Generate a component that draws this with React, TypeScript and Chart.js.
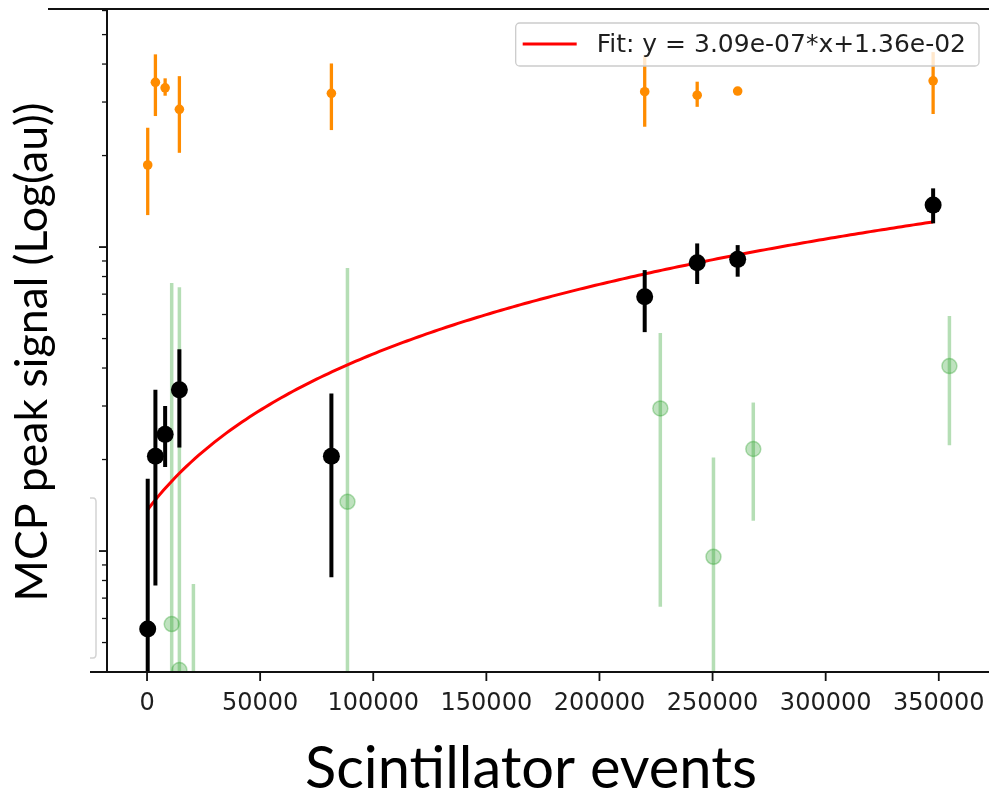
import React, { useEffect, useRef } from 'react';
import { Chart, registerables } from 'chart.js';

Chart.register(...registerables);

// ---- axis / tick definitions ----
const X_TICKS = [0, 50000, 100000, 150000, 200000, 250000, 300000, 350000];
const Y_MAJOR_TICKS = [0.01, 0.1];
const Y_MINOR_TICKS = [0.004, 0.005, 0.006, 0.007, 0.008, 0.009, 0.02, 0.03, 0.04, 0.05, 0.06, 0.07, 0.08, 0.09, 0.2, 0.3, 0.4, 0.5, 0.6];
const X_MIN = -17700;
const X_MAX = 372200;
const Y_MIN = 0.004;
const Y_MAX = 0.607;

const X_TITLE = 'Scintillator events';
const Y_TITLE = 'MCP peak signal (Log(au))';

// ---- data ----
const SCINT_X = [300, 3700, 8000, 14300, 81500, 220000, 243200, 261100, 347500];

const BLACK_Y = [0.00554, 0.0205, 0.0242, 0.0339, 0.0205, 0.0686, 0.0888, 0.0911, 0.1374];
const BLACK_LO = [0.002, 0.0077, 0.0189, 0.0219, 0.0082, 0.0525, 0.0756, 0.0799, 0.1197];
const BLACK_HI = [0.0173, 0.0339, 0.03, 0.0461, 0.033, 0.084, 0.1028, 0.1015, 0.156];

const ORANGE_Y = [0.1862, 0.3482, 0.3342, 0.2838, 0.3204, 0.3244, 0.316, 0.326, 0.3523];
const ORANGE_LO = [0.1274, 0.2698, 0.3147, 0.2042, 0.2426, 0.2488, 0.2893, 0.326, 0.274];
const ORANGE_HI = [0.2469, 0.4305, 0.359, 0.365, 0.4018, 0.4285, 0.35, 0.326, 0.4379];

const GREEN_X = [10900, 14300, 20500, 88600, 226900, 250400, 268000, 354700];
const GREEN_Y = [0.00575, 0.00406, 0.0028, 0.01452, 0.02945, 0.00957, 0.02166, 0.0406];
const GREEN_LO = [0.001, 0.001, 0.001, 0.001, 0.00656, 0.001, 0.01258, 0.0223];
const GREEN_HI = [0.0761, 0.0738, 0.00779, 0.0853, 0.0522, 0.0203, 0.0308, 0.0593];

const FIT_SLOPE = 3.09e-7;
const FIT_INTERCEPT = 1.36e-2;
const FIT_LABEL = 'Fit: y = 3.09e-07*x+1.36e-02';

function pts(xs: number[], ys: number[], lo: number[], hi: number[]) {
  return xs.map((x, i) => ({ x, y: ys[i], yMin: lo[i], yMax: hi[i] }));
}

function fitPoints() {
  const x0 = Math.min(...SCINT_X);
  const x1 = Math.max(...SCINT_X);
  const out: { x: number; y: number }[] = [];
  const n = 200;
  for (let i = 0; i <= n; i++) {
    const x = x0 + ((x1 - x0) * i) / n;
    out.push({ x, y: FIT_SLOPE * x + FIT_INTERCEPT });
  }
  return out;
}

const errorBarPlugin = {
  id: 'errorBars',
  beforeDatasetDraw(chart: any, args: any) {
    const ds: any = chart.data.datasets[args.index];
    if (!ds.errColor) return;
    const { ctx, chartArea: a } = chart;
    const x = chart.scales.x;
    const y = chart.scales.y;
    ctx.save();
    ctx.beginPath();
    ctx.rect(a.left, a.top, a.right - a.left, a.bottom - a.top);
    ctx.clip();
    ctx.strokeStyle = ds.errColor;
    ctx.lineWidth = ds.errWidth;
    ctx.lineCap = 'butt';
    ds.data.forEach((p: any) => {
      if (p.yMin === p.yMax) return;
      const px = x.getPixelForValue(p.x);
      ctx.beginPath();
      ctx.moveTo(px, y.getPixelForValue(p.yMin));
      ctx.lineTo(px, y.getPixelForValue(p.yMax));
      ctx.stroke();
    });
    ctx.restore();
  },
};

const decorPlugin = {
  id: 'decor',
  afterDraw(chart: any) {
    const { ctx, chartArea: a } = chart;
    const x = chart.scales.x;
    const y = chart.scales.y;
    ctx.save();

    // faint fragment of a neighbouring legend frame
    ctx.strokeStyle = 'rgba(200,200,200,0.8)';
    ctx.lineWidth = 1.5;
    ctx.beginPath();
    ctx.moveTo(a.left - 17, a.bottom - 174);
    ctx.lineTo(a.left - 14, a.bottom - 174);
    ctx.quadraticCurveTo(a.left - 11, a.bottom - 174, a.left - 11, a.bottom - 170);
    ctx.lineTo(a.left - 11, a.bottom - 18);
    ctx.quadraticCurveTo(a.left - 11, a.bottom - 14, a.left - 14, a.bottom - 14);
    ctx.lineTo(a.left - 17, a.bottom - 14);
    ctx.stroke();

    // spines
    ctx.strokeStyle = '#111';
    ctx.lineWidth = 2;
    ctx.beginPath();
    ctx.moveTo(a.left - 59, a.top);
    ctx.lineTo(a.right, a.top);
    ctx.moveTo(a.left, a.top);
    ctx.lineTo(a.left, a.bottom);
    ctx.moveTo(a.left - 17, a.bottom);
    ctx.lineTo(a.right, a.bottom);
    ctx.stroke();

    // x ticks + labels
    ctx.lineWidth = 1.8;
    ctx.fillStyle = '#1e1e1e';
    ctx.font = '24px "DejaVu Sans"';
    ctx.textAlign = 'center';
    ctx.textBaseline = 'alphabetic';
    x.ticks.forEach((t: any) => {
      const px = x.getPixelForValue(t.value);
      ctx.beginPath();
      ctx.moveTo(px, a.bottom);
      ctx.lineTo(px, a.bottom + 9);
      ctx.stroke();
      ctx.fillText(String(t.value), px, a.bottom + 38);
    });

    // y ticks (no labels)
    Y_MAJOR_TICKS.forEach((v) => {
      const py = y.getPixelForValue(v);
      ctx.beginPath();
      ctx.moveTo(a.left, py);
      ctx.lineTo(a.left - 8, py);
      ctx.stroke();
    });
    ctx.lineWidth = 1.3;
    Y_MINOR_TICKS.forEach((v) => {
      const py = y.getPixelForValue(v);
      ctx.beginPath();
      ctx.moveTo(a.left, py);
      ctx.lineTo(a.left - 5, py);
      ctx.stroke();
    });

    // legend
    ctx.font = '25px "DejaVu Sans"';
    const tw = ctx.measureText(FIT_LABEL).width;
    const bRight = a.right - 10;
    const bTop = a.top + 14;
    const bH = 43;
    const bLeft = bRight - (tw + 13 + 20 + 54 + 7);
    ctx.fillStyle = 'rgba(255,255,255,0.8)';
    ctx.strokeStyle = 'rgba(204,204,204,1)';
    ctx.lineWidth = 1.3;
    ctx.beginPath();
    if (ctx.roundRect) ctx.roundRect(bLeft, bTop, bRight - bLeft, bH, 4);
    else ctx.rect(bLeft, bTop, bRight - bLeft, bH);
    ctx.fill();
    ctx.stroke();
    ctx.strokeStyle = 'red';
    ctx.lineWidth = 3;
    ctx.beginPath();
    ctx.moveTo(bLeft + 7, bTop + 21);
    ctx.lineTo(bLeft + 61, bTop + 21);
    ctx.stroke();
    ctx.fillStyle = '#1e1e1e';
    ctx.textAlign = 'left';
    ctx.fillText(FIT_LABEL, bLeft + 81, bTop + 29);

    // axis titles (fit to width)
    ctx.fillStyle = '#000';
    ctx.textAlign = 'center';
    ctx.font = '100px Lato';
    let w = ctx.measureText(X_TITLE).width;
    ctx.font = `${(100 * 452) / w}px Lato`;
    ctx.fillText(X_TITLE, a.left + 424, a.bottom + 116);

    ctx.font = '100px Lato';
    w = ctx.measureText(Y_TITLE).width;
    ctx.font = `${(100 * 499) / w}px Lato`;
    ctx.translate(a.left - 60, a.top + 343);
    ctx.rotate(-Math.PI / 2);
    ctx.fillText(Y_TITLE, 0, 0);

    ctx.restore();
  },
};

export default function App() {
  const ref = useRef<HTMLCanvasElement | null>(null);

  useEffect(() => {
    document.body.style.margin = '0';
    document.body.style.overflow = 'hidden';
    const canvas = ref.current;
    if (!canvas) return;
    const chart = new Chart(canvas, {
      type: 'scatter',
      data: {
        datasets: [
          {
            label: 'green',
            data: pts(GREEN_X, GREEN_Y, GREEN_LO, GREEN_HI),
            backgroundColor: 'rgba(44,160,44,0.3)',
            borderColor: 'rgba(44,160,44,0.35)',
            borderWidth: 1.5,
            pointRadius: 7.5,
            order: 4,
            clip: 0,
            errColor: 'rgba(44,160,44,0.35)',
            errWidth: 3.5,
          } as any,
          {
            label: FIT_LABEL,
            type: 'line',
            data: fitPoints(),
            borderColor: 'red',
            borderWidth: 3,
            pointRadius: 0,
            showLine: true,
            fill: false,
            tension: 0,
            order: 3,
          } as any,
          {
            label: 'orange',
            data: pts(SCINT_X, ORANGE_Y, ORANGE_LO, ORANGE_HI),
            backgroundColor: '#ff8c00',
            borderColor: '#ff8c00',
            borderWidth: 0,
            pointRadius: 4.8,
            order: 2,
            clip: 0,
            errColor: '#ff8c00',
            errWidth: 3.3,
          } as any,
          {
            label: 'black',
            data: pts(SCINT_X, BLACK_Y, BLACK_LO, BLACK_HI),
            backgroundColor: '#000',
            borderColor: '#000',
            borderWidth: 0,
            pointRadius: 8.5,
            order: 1,
            clip: 0,
            errColor: '#000',
            errWidth: 4,
          } as any,
        ],
      },
      options: {
        animation: false,
        responsive: false,
        devicePixelRatio: 1,
        layout: { autoPadding: false, padding: { left: 107, top: 9, right: 0, bottom: 120 } },
        scales: {
          x: {
            type: 'linear',
            display: false,
            min: X_MIN,
            max: X_MAX,
            afterBuildTicks: (s: any) => {
              s.ticks = X_TICKS.map((v) => ({ value: v }));
            },
          },
          y: {
            type: 'logarithmic',
            display: false,
            min: Y_MIN,
            max: Y_MAX,
          },
        },
        plugins: {
          legend: { display: false },
          tooltip: { enabled: false },
        },
      } as any,
      plugins: [errorBarPlugin, decorPlugin],
    });
    return () => chart.destroy();
  }, []);

  return <canvas ref={ref} width={989} height={792} style={{ display: 'block', width: 989, height: 792 }} />;
}
